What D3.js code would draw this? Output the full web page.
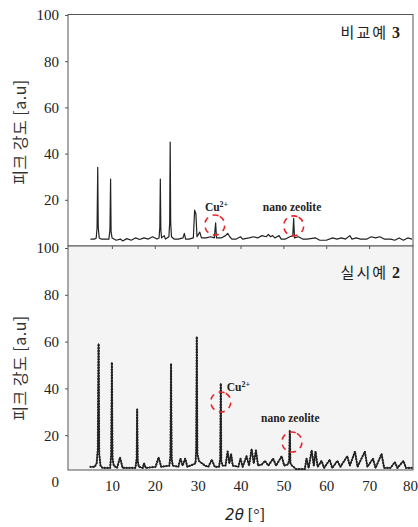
<!DOCTYPE html>
<html><head><meta charset="utf-8">
<script src="https://cdn.jsdelivr.net/npm/d3@7"></script>
<style>
html,body{margin:0;padding:0;background:#fff;}
svg{display:block;}
</style></head>
<body>
<svg id="c" width="418" height="527"></svg>
<script>
// ---- data ----
const xTicks = [10,20,30,40,50,60,70,80];
const yTicks = [0,20,40,60,80,100];
const panelTitles = ["비교예 3", "실시예 2"];
const yLabel = "피크 강도 [a.u]";

// 비교예 3 (2θ, intensity)
const comp3 = [[5,3],[6,3],[6.35,3.5],[6.55,8],[6.7,34],[6.82,8],[7.05,3.5],[7.5,3],[9.3,3],[9.55,7],[9.7,29],[9.82,6],[10.05,3.5],[11,2.5],[12,3],[12.5,2.2],[13.5,3.2],[14.5,2.5],[15.5,3.5],[16.5,2.8],[17.5,3.5],[18.5,3],[19.5,4],[20.5,3],[21.0,3.5],[21.18,8],[21.3,29],[21.42,7],[21.6,3.5],[22.2,4.5],[22.5,3],[23.3,4],[23.48,10],[23.6,45],[23.72,10],[23.9,4],[24.5,3],[25.5,3],[26.6,3.5],[26.9,5.5],[27.2,3],[28,3],[29,3.5],[29.3,15.5],[29.6,14],[29.85,4],[30.5,6],[30.9,3.5],[32,3.5],[33,4],[33.9,3.5],[34.2,10],[34.4,3.5],[35.5,3.5],[36.5,4.5],[37,5.5],[37.5,4],[38,3],[39,3],[40,4],[40.5,3],[42,3.5],[43,4],[44,3.5],[45,4.5],[46,4],[46.5,5],[47,4],[47.5,4.5],[48,3.5],[49,4.5],[49.5,3],[50.5,3],[51.5,4],[52.2,4.5],[52.4,12],[52.6,3.5],[53.5,4],[54.5,3],[55.5,3],[57.5,3.5],[58.5,2.5],[60,2.5],[61.5,3.5],[62.5,3],[63.5,3.5],[64.5,3],[65.5,4.5],[66,3],[67,3.5],[68,3],[69.5,3],[70.5,4],[71.5,3.5],[72.5,4],[73.5,3],[75,3],[76,2.5],[77,3.5],[78,2.5],[79,3.5],[80,3]];

// 실시예 2 (2θ, intensity)
const ex2 = [[5,6.5],[6,6.5],[6.45,8],[6.72,14],[6.9,59],[7.05,12],[7.35,7],[7.8,6],[9.6,6],[9.85,12],[10.0,51],[10.15,10],[10.45,7],[11.2,6],[11.9,10.5],[12.5,6],[15.5,6],[15.78,10],[15.9,31],[16.02,9],[16.3,6.5],[17.2,6],[17.5,8],[17.9,6],[20.2,6.5],[20.9,10.5],[21.5,6.5],[23.4,7],[23.66,11],[23.8,50.5],[23.94,10],[24.2,7],[25.5,6.5],[26,10],[26.5,7],[27.1,10],[27.6,6.5],[29,7.5],[29.5,8],[29.68,14],[29.8,62],[29.95,12],[30.3,9],[31,8],[31.7,7],[32.5,6.5],[33.3,9.5],[34,6.5],[35,6.5],[35.28,10],[35.4,42],[35.52,9],[35.8,7],[36.5,7],[37,13],[37.4,8],[37.8,12],[38.2,7],[39.5,6.5],[40,10],[40.5,6.5],[41.4,11],[42,7],[42.6,14],[43.1,8],[43.6,13.5],[44.1,7],[45,7.5],[45.7,9],[46.5,7],[47.6,10],[48.3,7],[49.6,11],[50.2,7],[51,7.5],[51.35,9],[51.5,22],[51.65,8],[52,7],[53,5.5],[55,5.5],[55.4,10],[55.9,6],[56.6,13.5],[57.1,7],[57.5,13],[58,6.5],[58.9,9],[59.5,6],[60.8,9.5],[61.4,6],[62.6,9],[63.3,6.5],[64.9,11],[65.5,7],[66.7,13],[67.3,6.5],[69,13],[69.6,6.5],[70.9,10],[71.5,6],[72.9,12],[73.5,6],[75,6],[76,8.5],[76.6,6],[78,9],[78.6,6],[80,6]];

// annotations: label anchor and dashed-circle centre in data units
const annTop = [
  {label:"Cu", sup:"2+", tx:31.7, ty:15.1, cx:34.0, cy:9.1},
  {label:"nano zeolite", sup:"", tx:45.2, ty:15.1, cx:52.4, cy:8.7}
];
const annBot = [
  {label:"Cu", sup:"2+", tx:36.8, ty:38.9, cx:35.4, cy:34.2},
  {label:"nano zeolite", sup:"", tx:44.8, ty:25.6, cx:52.0, cy:17.1}
];

// ---- layout ----
const svg = d3.select("#c");
const L = 68, R = 413;
const x = d3.scaleLinear().domain([0,80]).range([69,412]);
const yT = d3.scaleLinear().domain([0,100]).range([246,15]);
const yB = d3.scaleLinear().domain([0,100]).range([482,248]);
const serif = "'Liberation Serif','Times New Roman',serif";
const kr = "'Noto Sans CJK KR','Noto Sans CJK SC',sans-serif";
const ink = "#222";

// frames
svg.append("rect").attr("x",L).attr("y",14.5).attr("width",R-L).attr("height",246-14.5)
  .attr("fill","#fff").attr("stroke","#555").attr("stroke-width",1);
svg.append("rect").attr("x",L).attr("y",246).attr("width",R-L).attr("height",470-246)
  .attr("fill","#f4f4f4").attr("stroke","#555").attr("stroke-width",1);

svg.append("clipPath").attr("id","clipT").append("rect").attr("x",L).attr("y",14.5).attr("width",R-L).attr("height",246-14.5);
svg.append("clipPath").attr("id","clipB").append("rect").attr("x",L).attr("y",246).attr("width",R-L).attr("height",470-246);

function styleAxis(g){
  g.select(".domain").remove();
  g.selectAll(".tick line").attr("stroke","#555");
  g.selectAll(".tick text").attr("font-family",serif).attr("font-size",15).attr("fill",ink);
}

// y axes
svg.append("g").attr("transform",`translate(${L},0)`)
  .call(d3.axisLeft(yT).tickValues(yTicks.filter(d=>d>0)).tickSize(3).tickPadding(6).tickFormat(d3.format("d")))
  .call(styleAxis);
svg.append("g").attr("transform",`translate(${L},0)`)
  .call(d3.axisLeft(yB).tickValues(yTicks).tickSize(3).tickPadding(6).tickFormat(d3.format("d")))
  .call(styleAxis)
  .call(g=>g.selectAll(".tick").filter(d=>d===0).select("line").remove());

// x ticks on shared border (no labels)
svg.append("g").attr("transform","translate(0,246)")
  .call(d3.axisBottom(x).tickValues(xTicks.slice(0,-1)).tickSize(3).tickFormat(""))
  .call(styleAxis);
// x labels
svg.append("g").attr("transform","translate(0,470)")
  .call(d3.axisBottom(x).tickValues(xTicks).tickSize(0).tickPadding(10))
  .call(styleAxis)
  .call(g=>g.selectAll(".tick text").filter(d=>d===80).attr("dx",-2));

// traces
const lineT = d3.line().x(d=>x(d[0])).y(d=>yT(d[1]));
const lineB = d3.line().x(d=>x(d[0])).y(d=>yB(d[1]));
svg.append("path").attr("d",lineT(comp3)).attr("fill","none").attr("stroke",ink)
  .attr("stroke-width",1.2).attr("stroke-linejoin","round").attr("clip-path","url(#clipT)");
const pB = svg.append("path").attr("d",lineB(ex2)).attr("fill","none").attr("stroke",ink)
  .attr("stroke-width",1.3).attr("stroke-linejoin","round").attr("clip-path","url(#clipB)");
// dot markers along the bottom trace
const node = pB.node(), len = node.getTotalLength();
const dots = d3.range(0,len,2.8).map(l=>node.getPointAtLength(l));
svg.append("g").attr("clip-path","url(#clipB)").selectAll("circle").data(dots).join("circle")
  .attr("cx",d=>d.x).attr("cy",d=>d.y).attr("r",1.1).attr("fill",ink);

// annotations
function drawAnn(list, y){
  list.forEach(a=>{
    const t = svg.append("text").attr("x",x(a.tx)).attr("y",y(a.ty))
      .attr("font-family",serif).attr("font-weight","bold").attr("font-size",11.5).attr("fill",ink)
      .text(a.label);
    if(a.sup) t.append("tspan").attr("font-size",8).attr("dy",-4).text(a.sup);
    svg.append("circle").attr("cx",x(a.cx)).attr("cy",y(a.cy)).attr("r",10)
      .attr("fill","none").attr("stroke","#e5262a").attr("stroke-width",1.6)
      .attr("stroke-dasharray","6,5").attr("transform",`rotate(-60,${x(a.cx)},${y(a.cy)})`);
  });
}
drawAnn(annTop, yT);
drawAnn(annBot, yB);

// panel titles
[[panelTitles[0],32],[panelTitles[1],272]].forEach(([s,cy])=>{
  const parts = s.split(" ");
  const t = svg.append("text").attr("x",400).attr("y",cy+5.5).attr("text-anchor","end").attr("fill",ink);
  t.append("tspan").attr("font-family",kr).attr("font-size",15).attr("letter-spacing",2).text(parts[0]);
  t.append("tspan").attr("font-family",serif).attr("font-weight","bold").attr("font-size",16).attr("dx",4).text(parts[1]);
});

// y labels
[132,368].forEach(cy=>{
  svg.append("text").attr("transform",`translate(26,${cy}) rotate(-90)`).attr("text-anchor","middle")
    .attr("font-family",kr).attr("font-size",16).attr("letter-spacing",0.5).attr("fill","#333").text(yLabel);
});

// x label
const xl = svg.append("text").attr("x",245).attr("y",520).attr("text-anchor","middle").attr("fill",ink).attr("font-size",16);
xl.append("tspan").attr("font-family","'DejaVu Sans',sans-serif").attr("font-style","italic").attr("font-size",15).text("2θ");
xl.append("tspan").attr("font-family",serif).text(" [°]");
</script>
</body></html>
